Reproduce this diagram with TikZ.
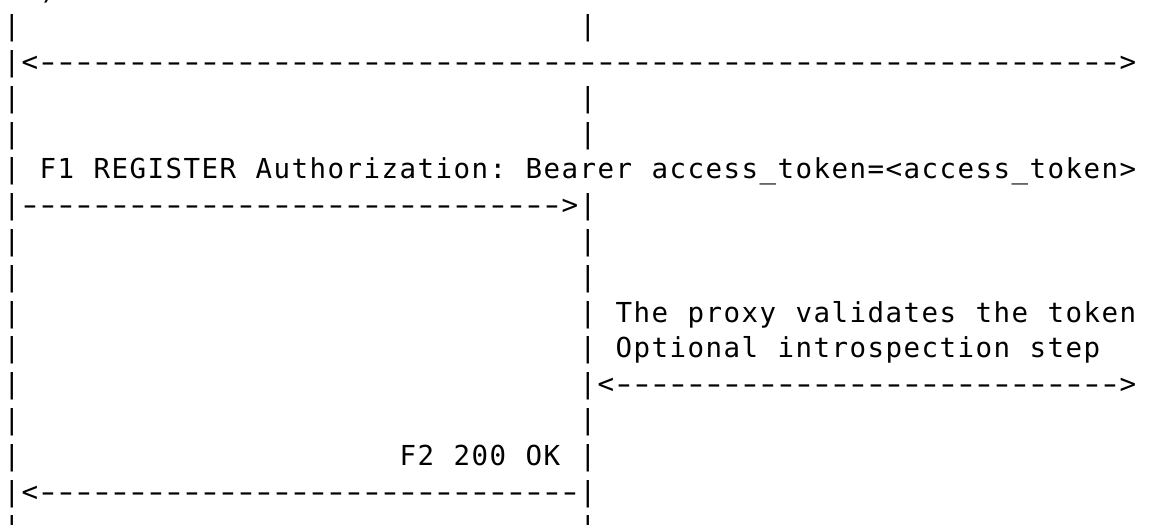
\documentclass[tikz,border=0pt]{standalone}
\usepackage{fontspec}
\usepackage{graphicx}
\setmonofont{DejaVu Sans Mono}
\ExplSyntaxOn
\NewDocumentCommand\asciirow{m}{\str_map_inline:nn{#1}{\makebox[18pt][c]{##1}}}
\NewDocumentCommand\dashes{m}{\prg_replicate:nn{#1}{\makebox[18pt][c]{\scalebox{1.5}[1]{-}}}}
\ExplSyntaxOff
\tikzset{
  txt/.style={font=\ttfamily\fontsize{27.5}{32}\selectfont, inner sep=0pt, outer sep=0pt, anchor=base west, text=black}
}
\newcommand\seg[4]{\node[txt] (#1) at ({3+18*#2},{525-35.8*#3}) {#4};}
\begin{document}
\begin{tikzpicture}[x=1pt,y=1pt]
\useasboundingbox (0,0) rectangle (1152,525);
\fill[white] (0,0) rectangle (1152,525);
\clip (0,0) rectangle (1152,525);
% row 0 (partial)
\seg{r0}{2}{0}{\asciirow{)}}
% row 1
\seg{r1a}{0}{1}{\asciirow{|}}
\seg{r1b}{32}{1}{\asciirow{|}}
% row 2
\seg{r2}{0}{2}{\asciirow{|<}\dashes{60}\asciirow{>}}
% rows 3,4
\seg{r3a}{0}{3}{\asciirow{|}}
\seg{r3b}{32}{3}{\asciirow{|}}
\seg{r4a}{0}{4}{\asciirow{|}}
\seg{r4b}{32}{4}{\asciirow{|}}
% row 5
\seg{r5}{0}{5}{\asciirow{| F1 REGISTER Authorization: Bearer access_token=<access_token>}}
% row 6
\seg{r6}{0}{6}{\asciirow{|}\dashes{30}\asciirow{>|}}
% rows 7,8
\seg{r7a}{0}{7}{\asciirow{|}}
\seg{r7b}{32}{7}{\asciirow{|}}
\seg{r8a}{0}{8}{\asciirow{|}}
\seg{r8b}{32}{8}{\asciirow{|}}
% row 9
\seg{r9a}{0}{9}{\asciirow{|}}
\seg{r9b}{32}{9}{\asciirow{| The proxy validates the token}}
% row 10
\seg{r10a}{0}{10}{\asciirow{|}}
\seg{r10b}{32}{10}{\asciirow{| Optional introspection step}}
% row 11
\seg{r11a}{0}{11}{\asciirow{|}}
\seg{r11b}{32}{11}{\asciirow{|<}\dashes{28}\asciirow{>}}
% row 12
\seg{r12a}{0}{12}{\asciirow{|}}
\seg{r12b}{32}{12}{\asciirow{|}}
% row 13
\seg{r13a}{0}{13}{\asciirow{|}}
\seg{r13b}{22}{13}{\asciirow{F2 200 OK |}}
% row 14
\seg{r14}{0}{14}{\asciirow{|<}\dashes{30}\asciirow{|}}
% row 15
\seg{r15a}{0}{15}{\asciirow{|}}
\seg{r15b}{32}{15}{\asciirow{|}}
\end{tikzpicture}
\end{document}
